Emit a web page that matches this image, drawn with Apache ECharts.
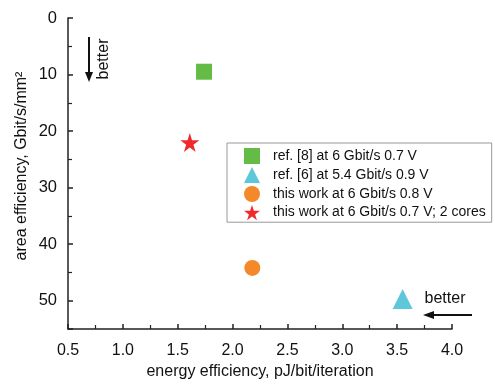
<!DOCTYPE html>
<html><head><meta charset="utf-8">
<script src="https://cdn.jsdelivr.net/npm/echarts@6/dist/echarts.min.js"></script>
<style>html,body{margin:0;padding:0;background:#fff}#c{width:495px;height:385px}</style>
</head><body><div id="c"></div>
<script>
const seriesNames = ['ref. [8] at 6 Gbit/s 0.7 V','ref. [6] at 5.4 Gbit/s 0.9 V','this work at 6 Gbit/s 0.8 V','this work at 6 Gbit/s 0.7 V; 2 cores'];
const energyEff = [1.74, 3.55, 2.18, 1.61];
const areaEff = [9.5, 49.7, 44.2, 22.0];
const colors = ['#64bb46','#5ec8da','#f3892a','#ee2a2d'];
const starPath = 'path://M50,0 L61.2,34.5 L97.6,34.5 L68.2,55.9 L79.4,90.5 L50,69.1 L20.6,90.5 L31.8,55.9 L2.4,34.5 L38.8,34.5 Z';
const symbols = ['rect','triangle','circle',starPath];
const symbolSizes = [16,20,16,19];
const xTicks = [0.5,4.0,0.5];
const yTicks = [0,55,10];
const font = 'Liberation Sans, Arial, Helvetica, sans-serif';

const chart = echarts.init(document.getElementById('c'), null, {renderer:'canvas'});
const axisCommon = {
  axisLine:{show:true,onZero:false,lineStyle:{color:'#222',width:1.5}},
  axisTick:{show:true,inside:true,length:5,lineStyle:{color:'#222',width:1.5}},
  minorTick:{show:true,splitNumber:2,length:4,lineStyle:{color:'#222',width:1.2}},
  splitLine:{show:false},
  axisLabel:{color:'#111',fontSize:16,fontFamily:font,margin:10}
};
chart.setOption({
  animation:false,
  grid:{left:68,right:43,top:18,bottom:52},
  xAxis:Object.assign({}, axisCommon, {
    type:'value', position:'bottom', min:xTicks[0], max:xTicks[1], interval:xTicks[2],
    axisLabel:Object.assign({}, axisCommon.axisLabel, {formatter:v=>v.toFixed(1),margin:14}),
    name:'energy efficiency, pJ/bit/iteration', nameLocation:'middle', nameGap:35,
    nameTextStyle:{color:'#111',fontSize:16,fontFamily:font}
  }),
  yAxis:Object.assign({}, axisCommon, {
    type:'value', position:'left', inverse:true, min:yTicks[0], max:yTicks[1], interval:yTicks[2],
    axisLabel:Object.assign({}, axisCommon.axisLabel, {fontSize:16.5,margin:11,formatter:v=>(v>50?'':String(v))})
  }),
  legend:{
    orient:'vertical', left:227, top:143,
    padding:[5,6,2,17], itemGap:3, itemWidth:16, itemHeight:16,
    borderColor:'#999', borderWidth:1, backgroundColor:'#fff',
    textStyle:{color:'#111',fontSize:14,fontFamily:font,padding:[0,0,0,8]},
    data:seriesNames.map((n,i)=>({name:n,icon:symbols[i]}))
  },
  series:seriesNames.map((n,i)=>({
    name:n, type:'scatter', symbol:symbols[i], symbolSize:symbolSizes[i],
    itemStyle:{color:colors[i],opacity:1},
    data:[[energyEff[i],areaEff[i]]]
  })),
  graphic:[
    {type:'text', x:22, y:166, rotation:Math.PI/2, style:{text:'area efficiency, Gbit/s/mm²',fill:'#111',font:'16px '+font,align:'center',verticalAlign:'middle'}},
    {type:'line', shape:{x1:89,y1:37,x2:89,y2:74}, style:{stroke:'#111',lineWidth:2}},
    {type:'polygon', shape:{points:[[85,72],[93,72],[89,82]]}, style:{fill:'#111'}},
    {type:'text', x:104, y:59, rotation:Math.PI/2, style:{text:'better',fill:'#111',font:'16px '+font,align:'center',verticalAlign:'middle'}},
    {type:'line', shape:{x1:432,y1:315,x2:472,y2:315}, style:{stroke:'#111',lineWidth:2}},
    {type:'polygon', shape:{points:[[434,311],[434,319],[423,315]]}, style:{fill:'#111'}},
    {type:'text', x:445, y:299, style:{text:'better',fill:'#111',font:'16px '+font,align:'center',verticalAlign:'middle'}}
  ]
});
</script></body></html>
